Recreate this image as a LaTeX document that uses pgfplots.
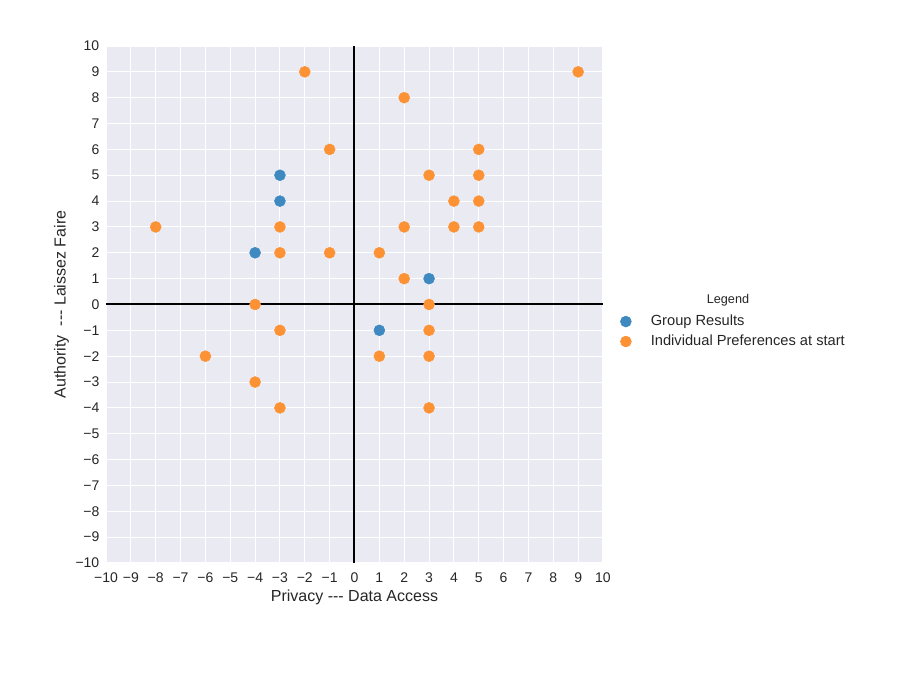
\documentclass[border=0pt]{standalone}
\usepackage{pgfplots}
\pgfplotsset{compat=1.18}
\usetikzlibrary{calc}
\usepackage{fontspec}
\setmainfont{Liberation Sans}
\definecolor{bgc}{RGB}{234,234,242}
\definecolor{cblue}{RGB}{62,138,192}
\definecolor{corange}{RGB}{253,146,52}
\definecolor{txt}{RGB}{38,38,38}
\begin{document}
\begin{tikzpicture}
\begin{axis}[
  scale only axis,
  width=372.75pt, height=387.75pt,
  xmin=-10, xmax=10, ymin=-10, ymax=10,
  axis background/.style={fill=bgc},
  axis line style={draw=none},
  grid=major,
  major grid style={white, line width=0.8pt},
  xtick={-10,...,10}, ytick={-10,...,10},
  xticklabels={−10,−9,−8,−7,−6,−5,−4,−3,−2,−1,0,1,2,3,4,5,6,7,8,9,10},
  yticklabels={−10,−9,−8,−7,−6,−5,−4,−3,−2,−1,0,1,2,3,4,5,6,7,8,9,10},
  major tick length=0pt,
  tick label style={font=\fontsize{10.5}{12}\selectfont, text=txt},
  xticklabel style={yshift=-3.5pt},
  yticklabel style={xshift=-1.5pt},
  xlabel={Privacy -{}-{}- Data Access},
  ylabel={Authority \ -{}-{}- Laissez Faire},
  label style={font=\fontsize{12}{14}\selectfont, text=txt},
  xlabel style={yshift=1.5pt},
  ylabel style={yshift=-2pt},
  legend style={at={(1.014,0.49)}, anchor=north west, draw=none, fill=none,
    font=\fontsize{11}{13}\selectfont, text=txt, row sep=1.5pt},
  legend cell align=left,
  legend image code/.code={\path (0cm,0cm) (0.88cm,0cm);
    \draw[mark repeat=2,mark phase=2,#1] plot coordinates {(0cm,0cm) (0.3cm,0cm) (0.6cm,0cm)};},
  clip=false,
]
\addplot[only marks, mark=*, mark size=4.1pt, color=cblue, mark options={draw=cblue, fill=cblue}]
  coordinates {(-3,5) (-3,4) (-4,2) (3,1) (1,-1)};
\addlegendentry{Group Results}
\addplot[only marks, mark=*, mark size=4.1pt, color=corange, mark options={draw=corange, fill=corange}]
  coordinates {(-2,9) (9,9) (2,8) (-1,6) (5,6) (3,5) (5,5) (4,4) (5,4)
   (-8,3) (-3,3) (2,3) (4,3) (5,3) (-3,2) (-1,2) (1,2) (2,1) (-4,0) (3,0)
   (-3,-1) (3,-1) (-6,-2) (1,-2) (3,-2) (-4,-3) (-3,-4) (3,-4)};
\addlegendentry{Individual Preferences at start}
\draw[black, line width=1.5pt] (axis cs:-10,0) -- (axis cs:10,0);
\draw[black, line width=1.5pt] (axis cs:0,-10) -- (axis cs:0,10);
\node[font=\fontsize{9.5}{11}\selectfont, text=txt] at (rel axis cs:1.2515,0.5087) {Legend};
\path[use as bounding box] ($(rel axis cs:0,0)+(-79.5pt,-84.75pt)$) rectangle ($(rel axis cs:1,1)+(222.75pt,34.5pt)$);
\end{axis}
\end{tikzpicture}
\end{document}
